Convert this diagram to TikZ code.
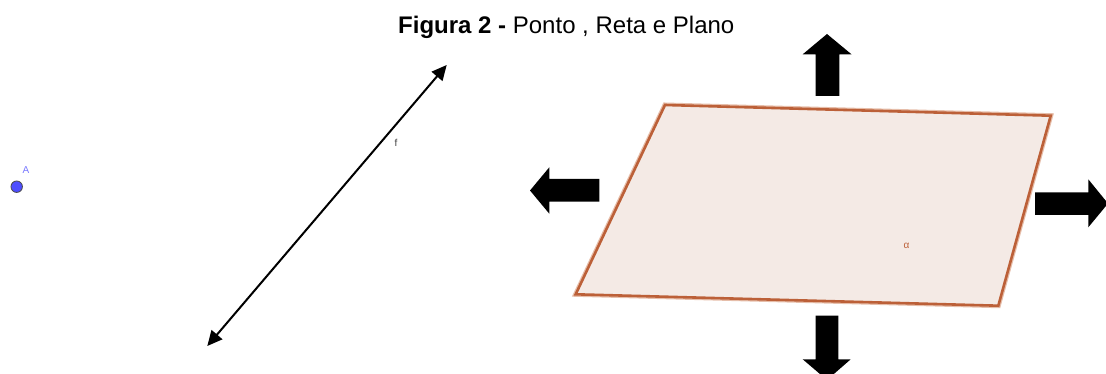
\documentclass[tikz,border=0pt]{standalone}
\usepackage{fontspec}
\setmainfont{Liberation Sans}
\usetikzlibrary{arrows.meta}
\definecolor{planeedge}{RGB}{188,96,56}
\definecolor{planehalo}{RGB}{230,190,170}
\definecolor{planefill}{RGB}{244,234,229}
\definecolor{ptfill}{RGB}{77,77,255}
\definecolor{ptlabel}{RGB}{120,120,255}
\definecolor{flabel}{RGB}{60,60,60}
\tikzset{
  blockarrow/.style={fill=black},
  plane/.style={draw=planeedge, fill=planefill, line width=2.6pt, line join=miter},
  planeglow/.style={draw=planehalo, line width=5pt, line join=miter},
  linef/.style={line width=2pt, {Triangle[length=15pt,width=14pt]}-{Triangle[length=15pt,width=14pt]}},
  smalllabel/.style={inner sep=0pt, font=\fontsize{10}{11}\selectfont}
}
\begin{document}
\begin{tikzpicture}[x=1pt,y=-1pt]
\useasboundingbox (0,0) rectangle (1106,374);
\clip (0,0) rectangle (1106,374);
% title
\node[anchor=base west, inner sep=0pt, font=\fontsize{24}{28}\selectfont] (title) at (398,34)
  {\textbf{Figura 2 -} Ponto , Reta e Plano};
% point A
\node[circle, draw=black!70, fill=ptfill, line width=0.8pt, minimum size=11.5pt, inner sep=0pt] (A) at (16.7,186.7) {};
\node[smalllabel, text=ptlabel] (Alab) at (26,170) {A};
% line f
\coordinate (f1) at (207.3,346);
\coordinate (f2) at (446.7,65);
\draw[linef] (f1) -- (f2);
\node[smalllabel, text=flabel] (flab) at (396,143) {f};
% plane
\coordinate (p1) at (665,105);
\coordinate (p2) at (1050.7,115.7);
\coordinate (p3) at (998.3,305.7);
\coordinate (p4) at (575.7,294.3);
\draw[planeglow] (p1) -- (p2) -- (p3) -- (p4) -- cycle;
\draw[plane] (p1) -- (p2) -- (p3) -- (p4) -- cycle;
\node[smalllabel, text=planeedge] (alpha) at (906.5,246) {α};
% block arrows
% up
\fill[blockarrow] (815.7,96) -- (815.7,54.3) -- (802.7,54.3) -- (827,34) -- (851.5,54.3) -- (839.3,54.3) -- (839.3,96) -- cycle;
% down
\fill[blockarrow] (815.7,315.7) -- (815.7,359.3) -- (802.7,359.3) -- (827,380) -- (850.7,359.3) -- (838.3,359.3) -- (838.3,315.7) -- cycle;
% left
\fill[blockarrow] (599.3,179) -- (549.3,179) -- (549.3,167.3) -- (530,190.5) -- (549.3,213.7) -- (549.3,201.7) -- (599.3,201.7) -- cycle;
% right
\fill[blockarrow] (1035,192.3) -- (1088.3,192.3) -- (1088.3,179.3) -- (1108,203.5) -- (1088.3,227.3) -- (1088.3,215) -- (1035,215) -- cycle;
\end{tikzpicture}
\end{document}
